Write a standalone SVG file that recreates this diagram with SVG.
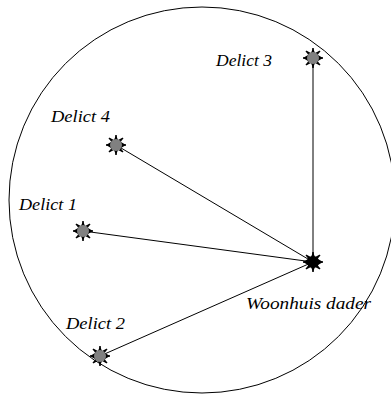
<svg xmlns="http://www.w3.org/2000/svg" width="391" height="396" viewBox="0 0 391 396">
<defs>
<style>
.lbl{font-family:"Liberation Serif","Times New Roman",serif;font-style:italic;font-size:17px;fill:#000}
.ln{stroke:#000;stroke-width:1;fill:none}
</style>
<g id="star">
<polygon points="0,-10 2,-5 6,-7 5,-3 10,0 5,3 6,7 2,5 0,10 -2,5 -6,7 -5,3 -10,0 -5,-3 -6,-7 -2,-5" fill="#000"/>
<path d="M-7,-7 L7,7 M7,-7 L-7,7 M0,-10 V10 M-10,0 H10" stroke="#000" stroke-width="1.5"/>
</g>
</defs>
<rect width="391" height="396" fill="#fff"/>
<circle cx="202" cy="200" r="193" fill="none" stroke="#000" stroke-width="1"/>
<g id="connectors">
<line class="ln" x1="313" y1="262" x2="313" y2="58"/>
<line class="ln" x1="313" y1="262" x2="116" y2="145"/>
<line class="ln" x1="313" y1="262" x2="83" y2="231"/>
<line class="ln" x1="313" y1="262" x2="100" y2="356"/>
</g>
<g id="delict3"><use href="#star" x="313" y="58"/><circle cx="313" cy="58" r="6" fill="#808080"/><text class="lbl" x="216" y="66" textLength="56" lengthAdjust="spacingAndGlyphs">Delict 3</text></g>
<g id="delict4"><use href="#star" x="116" y="145"/><circle cx="116" cy="145" r="6" fill="#808080"/><text class="lbl" x="51" y="122" textLength="59" lengthAdjust="spacingAndGlyphs">Delict 4</text></g>
<g id="delict1"><use href="#star" x="83" y="231"/><circle cx="83" cy="231" r="6" fill="#808080"/><text class="lbl" x="19" y="210" textLength="58" lengthAdjust="spacingAndGlyphs">Delict 1</text></g>
<g id="delict2"><use href="#star" x="100" y="356"/><circle cx="100" cy="356" r="6" fill="#808080"/><text class="lbl" x="66" y="329" textLength="59" lengthAdjust="spacingAndGlyphs">Delict 2</text></g>
<g id="woonhuis"><use href="#star" x="313" y="262"/><circle cx="313" cy="262" r="6" fill="#000"/><text class="lbl" x="246" y="309" textLength="125" lengthAdjust="spacingAndGlyphs">Woonhuis dader</text></g>
</svg>
